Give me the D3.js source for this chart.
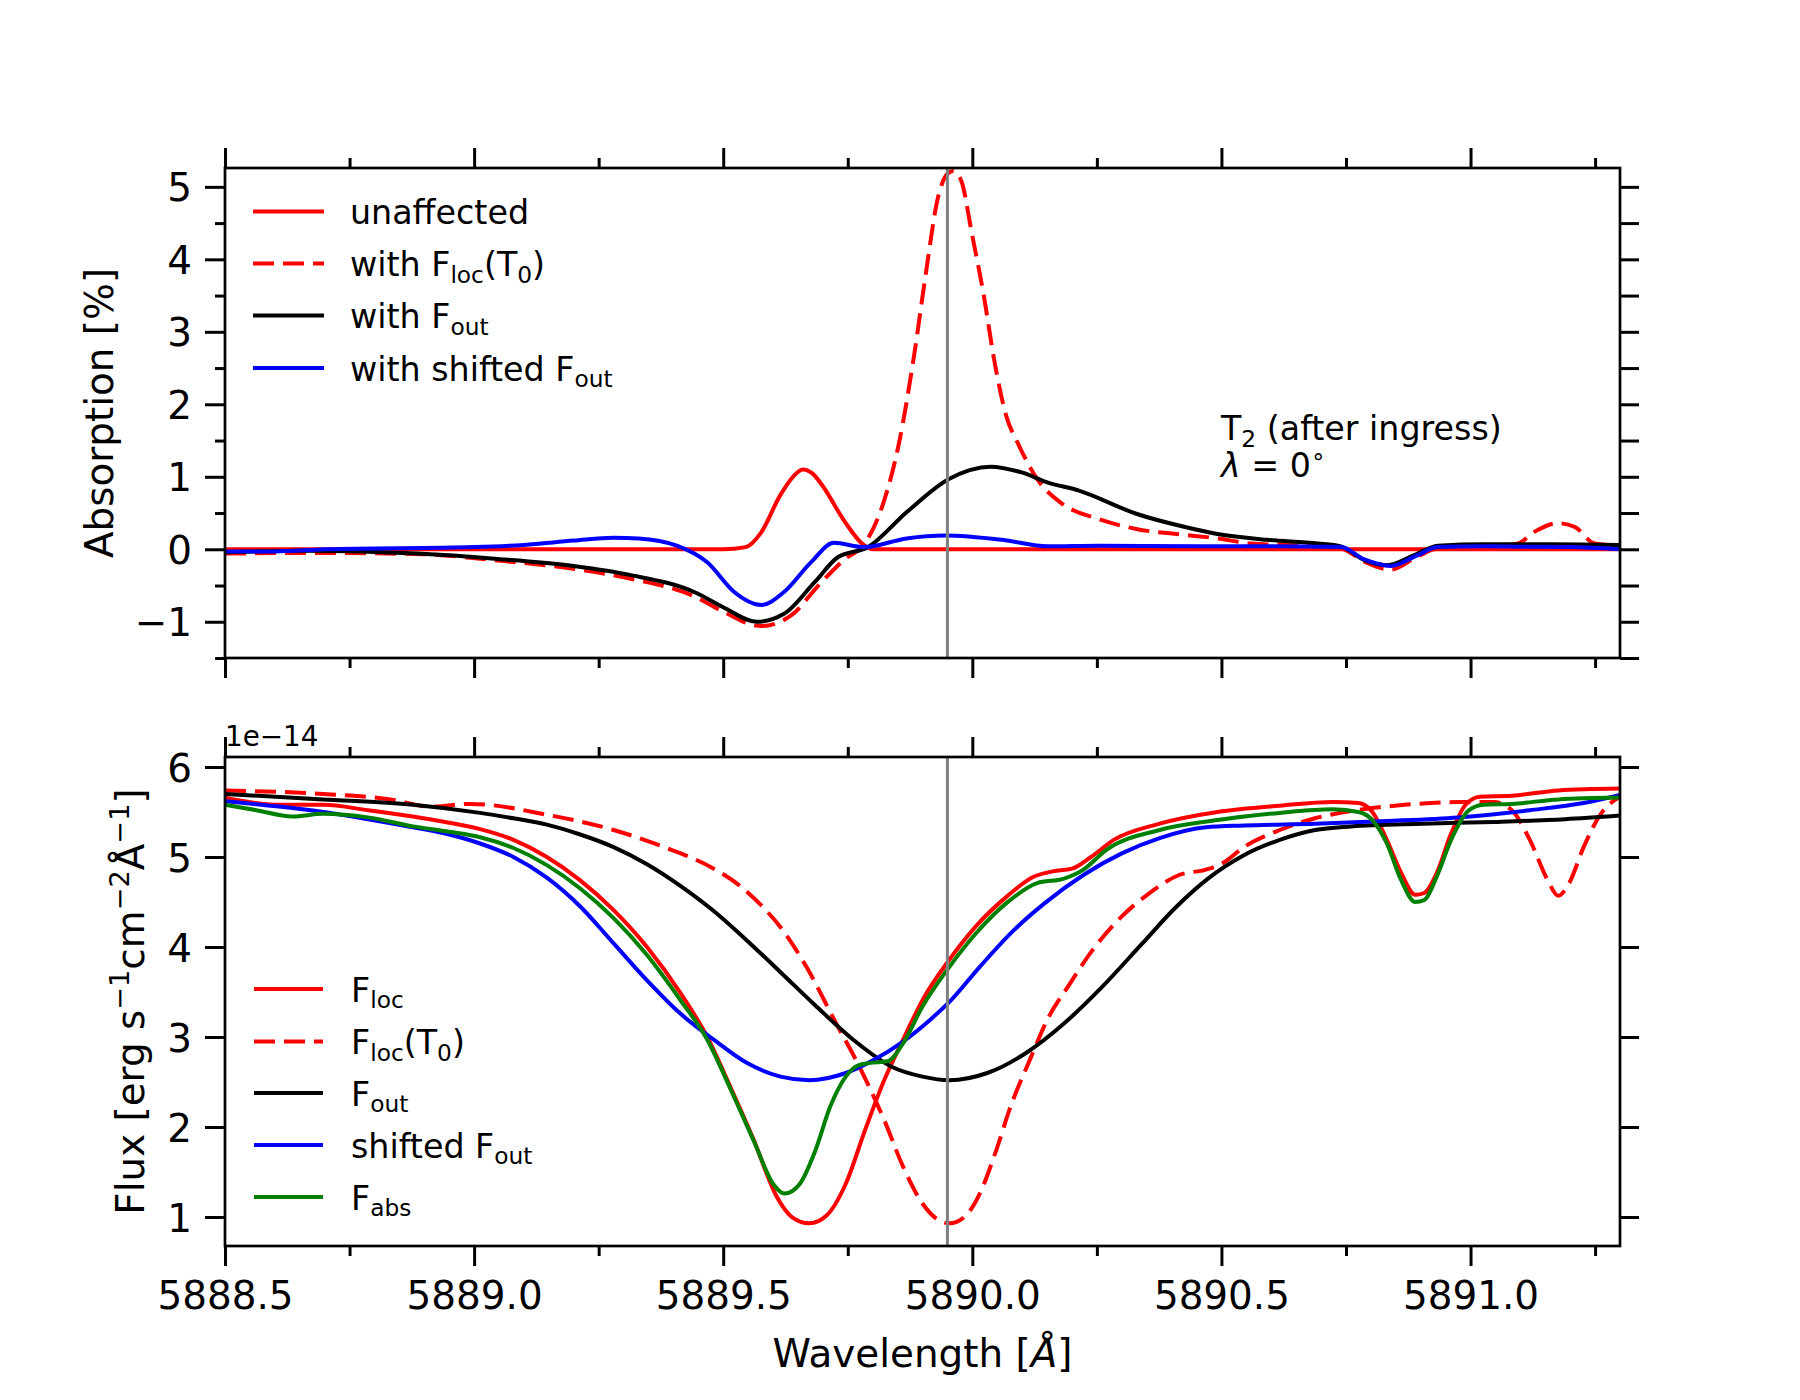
<!DOCTYPE html>
<html>
<head>
<meta charset="utf-8">
<script src="https://cdn.jsdelivr.net/npm/d3@7"></script>
<style>
  body { margin: 0; background: #fff; }
  svg text { font-family: "DejaVu Sans", sans-serif; fill: #000; }
</style>
</head>
<body>
<div id="chart"></div>
<script>
// ---- data (wavelength [A], value) ----
// top panel: absorption [%]
const absUnaffected = [
  [5888.5, 0], [5889.50, 0], [5889.545, 0.03], [5889.576, 0.23], [5889.614, 0.74], [5889.64, 1.0],
  [5889.660, 1.10], [5889.68, 1.04], [5889.699, 0.88], [5889.745, 0.37], [5889.780, 0.07],
  [5889.80, 0.0], [5891.3, 0]
];
const absFlocT0 = [
  [5888.5, -0.06], [5888.7, -0.05], [5888.9, -0.07], [5889.04, -0.15], [5889.2, -0.27], [5889.31, -0.40],
  [5889.445, -0.66], [5889.50, -0.86], [5889.576, -1.06], [5889.637, -0.91], [5889.691, -0.50],
  [5889.745, -0.13], [5889.783, 0.07], [5889.822, 0.65], [5889.853, 1.47], [5889.883, 2.67],
  [5889.906, 3.77], [5889.930, 4.82], [5889.950, 5.18], [5889.962, 5.22], [5889.978, 5.08],
  [5889.999, 4.36], [5890.022, 3.54], [5890.045, 2.57], [5890.068, 1.84], [5890.091, 1.47],
  [5890.130, 0.97], [5890.176, 0.65], [5890.252, 0.42], [5890.329, 0.28], [5890.425, 0.20],
  [5890.492, 0.15], [5890.559, 0.08], [5890.659, 0.05], [5890.740, 0.01], [5890.787, -0.17],
  [5890.840, -0.28], [5890.894, -0.10], [5890.934, 0.01], [5891.028, 0.03], [5891.095, 0.08],
  [5891.128, 0.24], [5891.175, 0.36], [5891.209, 0.31], [5891.249, 0.08], [5891.3, 0.05]
];
const absFout = [
  [5888.5, -0.04], [5888.657, -0.02], [5888.887, -0.06], [5889.041, -0.13], [5889.2, -0.23],
  [5889.31, -0.35], [5889.445, -0.60], [5889.50, -0.80], [5889.568, -1.00], [5889.622, -0.89],
  [5889.684, -0.45], [5889.730, -0.11], [5889.791, 0.03], [5889.868, 0.51], [5889.953, 0.97],
  [5890.037, 1.14], [5890.099, 1.06], [5890.152, 0.92], [5890.214, 0.81], [5890.329, 0.49],
  [5890.425, 0.31], [5890.492, 0.21], [5890.592, 0.13], [5890.693, 0.08], [5890.740, 0.04],
  [5890.787, -0.15], [5890.833, -0.22], [5890.887, -0.08], [5890.934, 0.05], [5891.028, 0.07],
  [5891.162, 0.07], [5891.3, 0.06]
];
const absShifted = [
  [5888.5, -0.03], [5888.6, -0.03], [5888.7, 0.0], [5889.0, 0.03], [5889.1, 0.06], [5889.2, 0.12],
  [5889.28, 0.16], [5889.33, 0.15], [5889.407, 0.05], [5889.468, -0.18], [5889.522, -0.59],
  [5889.576, -0.77], [5889.622, -0.59], [5889.676, -0.18], [5889.722, 0.09], [5889.783, 0.03],
  [5889.868, 0.15], [5889.945, 0.19], [5890.060, 0.13], [5890.152, 0.04], [5890.252, 0.05],
  [5890.452, 0.04], [5890.6, 0.04], [5890.74, 0.03], [5890.787, -0.14], [5890.84, -0.23],
  [5890.894, -0.08], [5890.934, 0.03], [5891.03, 0.04], [5891.2, 0.03], [5891.3, 0.0]
];

// bottom panel: flux [1e-14 erg s-1 cm-2 A-1]
const fluxLoc = [
  [5888.5, 5.66], [5888.608, 5.58], [5888.697, 5.58], [5888.787, 5.52], [5888.877, 5.45],
  [5888.95, 5.38], [5889.012, 5.31], [5889.079, 5.19], [5889.146, 5.00], [5889.213, 4.74],
  [5889.280, 4.41], [5889.347, 4.00], [5889.414, 3.49], [5889.468, 3.00], [5889.514, 2.45],
  [5889.561, 1.86], [5889.608, 1.22], [5889.638, 1.00], [5889.673, 0.93], [5889.708, 1.02],
  [5889.746, 1.37], [5889.785, 1.97], [5889.823, 2.52], [5889.861, 2.97], [5889.900, 3.41],
  [5889.954, 3.86], [5890.007, 4.23], [5890.069, 4.56], [5890.123, 4.78], [5890.161, 4.84],
  [5890.200, 4.87], [5890.238, 5.00], [5890.284, 5.19], [5890.376, 5.37], [5890.492, 5.50],
  [5890.617, 5.57], [5890.724, 5.61], [5890.775, 5.60], [5890.803, 5.50], [5890.832, 5.19],
  [5890.861, 4.82], [5890.889, 4.58], [5890.907, 4.60], [5890.932, 4.82], [5890.961, 5.26],
  [5890.990, 5.58], [5891.019, 5.67], [5891.083, 5.68], [5891.176, 5.74], [5891.3, 5.76]
];
const fluxLocT0 = [
  [5888.5, 5.74], [5888.697, 5.70], [5888.832, 5.64], [5888.913, 5.56], [5888.993, 5.59],
  [5889.146, 5.47], [5889.280, 5.30], [5889.381, 5.11], [5889.481, 4.87], [5889.531, 4.69],
  [5889.575, 4.47], [5889.615, 4.22], [5889.669, 3.76], [5889.723, 3.19], [5889.777, 2.63],
  [5889.823, 2.08], [5889.861, 1.56], [5889.900, 1.15], [5889.931, 0.97], [5889.954, 0.93],
  [5889.984, 1.00], [5890.015, 1.26], [5890.046, 1.71], [5890.077, 2.23], [5890.115, 2.74],
  [5890.154, 3.23], [5890.192, 3.56], [5890.246, 4.00], [5890.300, 4.34], [5890.351, 4.58],
  [5890.415, 4.80], [5890.469, 4.86], [5890.502, 4.93], [5890.545, 5.11], [5890.617, 5.30],
  [5890.688, 5.43], [5890.760, 5.51], [5890.868, 5.58], [5890.975, 5.61], [5891.047, 5.61],
  [5891.083, 5.52], [5891.119, 5.19], [5891.155, 4.74], [5891.176, 4.57], [5891.198, 4.71],
  [5891.227, 5.11], [5891.263, 5.49], [5891.3, 5.67]
];
const fluxOut = [
  [5888.5, 5.70], [5888.697, 5.64], [5888.877, 5.58], [5889.012, 5.49], [5889.079, 5.43],
  [5889.146, 5.36], [5889.213, 5.25], [5889.280, 5.11], [5889.347, 4.92], [5889.414, 4.68],
  [5889.481, 4.40], [5889.548, 4.07], [5889.615, 3.72], [5889.685, 3.35], [5889.761, 2.97],
  [5889.838, 2.67], [5889.900, 2.56], [5889.954, 2.52], [5890.030, 2.60], [5890.107, 2.82],
  [5890.184, 3.15], [5890.261, 3.56], [5890.338, 4.02], [5890.410, 4.45], [5890.473, 4.76],
  [5890.545, 5.02], [5890.617, 5.19], [5890.688, 5.30], [5890.760, 5.34], [5890.904, 5.37],
  [5891.047, 5.39], [5891.19, 5.42], [5891.3, 5.46]
];
const fluxShifted = [
  [5888.5, 5.62], [5888.608, 5.56], [5888.697, 5.50], [5888.787, 5.42], [5888.877, 5.33],
  [5888.95, 5.25], [5889.012, 5.15], [5889.079, 5.00], [5889.146, 4.77], [5889.213, 4.45],
  [5889.280, 4.04], [5889.347, 3.63], [5889.414, 3.26], [5889.481, 2.97], [5889.548, 2.71],
  [5889.615, 2.56], [5889.673, 2.52], [5889.746, 2.60], [5889.800, 2.74], [5889.861, 2.95],
  [5889.915, 3.19], [5889.954, 3.39], [5890.015, 3.78], [5890.084, 4.19], [5890.146, 4.49],
  [5890.223, 4.80], [5890.300, 5.04], [5890.376, 5.21], [5890.469, 5.33], [5890.545, 5.35],
  [5890.688, 5.37], [5890.832, 5.40], [5890.975, 5.44], [5891.119, 5.52], [5891.227, 5.60],
  [5891.3, 5.69]
];
const fluxAbs = [
  [5888.5, 5.58], [5888.563, 5.52], [5888.635, 5.45], [5888.697, 5.48], [5888.787, 5.44],
  [5888.877, 5.34], [5888.95, 5.28], [5889.012, 5.22], [5889.079, 5.10], [5889.146, 4.91],
  [5889.213, 4.65], [5889.280, 4.32], [5889.347, 3.91], [5889.414, 3.41], [5889.468, 2.97],
  [5889.514, 2.43], [5889.561, 1.85], [5889.600, 1.37], [5889.623, 1.26], [5889.654, 1.37],
  [5889.685, 1.74], [5889.715, 2.23], [5889.746, 2.56], [5889.769, 2.68], [5889.792, 2.71],
  [5889.830, 2.73], [5889.861, 2.93], [5889.900, 3.34], [5889.954, 3.78], [5890.007, 4.15],
  [5890.069, 4.49], [5890.130, 4.71], [5890.184, 4.76], [5890.223, 4.86], [5890.269, 5.08],
  [5890.376, 5.30], [5890.492, 5.41], [5890.617, 5.49], [5890.724, 5.53], [5890.775, 5.50],
  [5890.803, 5.41], [5890.832, 5.15], [5890.861, 4.74], [5890.889, 4.50], [5890.907, 4.52],
  [5890.932, 4.78], [5890.961, 5.19], [5890.997, 5.52], [5891.026, 5.58], [5891.083, 5.59],
  [5891.176, 5.64], [5891.3, 5.66]
];

const restWavelength = 5889.95;

// ticks
const xMajorTicks = [5888.5, 5889.0, 5889.5, 5890.0, 5890.5, 5891.0];
const xMinorTicks = [5888.75, 5889.25, 5889.75, 5890.25, 5890.75, 5891.25];
const absMajorTicks = [-1, 0, 1, 2, 3, 4, 5];
const absMinorTicks = [-1.5, -0.5, 0.5, 1.5, 2.5, 3.5, 4.5];
const fluxTicks = [1, 2, 3, 4, 5, 6];

// labels (text segments; sub/sup/it flags)
const labelsTop = [
  [{t: "unaffected"}],
  [{t: "with F"}, {t: "loc", sub: true}, {t: "(T"}, {t: "0", sub: true}, {t: ")"}],
  [{t: "with F"}, {t: "out", sub: true}],
  [{t: "with shifted F"}, {t: "out", sub: true}]
];
const labelsBottom = [
  [{t: "F"}, {t: "loc", sub: true}],
  [{t: "F"}, {t: "loc", sub: true}, {t: "(T"}, {t: "0", sub: true}, {t: ")"}],
  [{t: "F"}, {t: "out", sub: true}],
  [{t: "shifted F"}, {t: "out", sub: true}],
  [{t: "F"}, {t: "abs", sub: true}]
];
const noteLines = [
  [{t: "T"}, {t: "2", sub: true}, {t: " (after ingress)"}],
  [{t: "λ", it: true}, {t: " = 0"}, {t: "∘", sup: true}]
];
const xLabel = [{t: "Wavelength ["}, {t: "Å", it: true}, {t: "]"}];
const yLabelTop = [{t: "Absorption [%]"}];
const yLabelBottom = [{t: "Flux [erg s"}, {t: "−1", sup: true}, {t: "cm"}, {t: "−2", sup: true},
  {t: "Å"}, {t: "−1", sup: true}, {t: "]"}];
const offsetText = "1e−14";

// ---- layout ----
const width = 1800, height = 1400;
const left = 225, right = 1620;
const topPanel = {y0: 168, y1: 658};
const botPanel = {y0: 757, y1: 1246};
const tickFont = 38.9, legendFont = 33.3;
const lw = 4;

const svg = d3.select("#chart").append("svg")
  .attr("width", width).attr("height", height)
  .attr("viewBox", [0, 0, width, height]);
svg.append("rect").attr("width", width).attr("height", height).attr("fill", "#fff");

const x = d3.scaleLinear().domain([5888.5, 5891.3]).range([left, right]);
const yTop = d3.scaleLinear().domain([-1.5, 5.26]).range([topPanel.y1, topPanel.y0]);
const yBot = d3.scaleLinear().domain([0.678, 6.111]).range([botPanel.y1, botPanel.y0]);

// append segments as tspans; returns the baseline shift left at the end
function rich(sel, parts, fs, startShift = 0, firstX = null, lineGap = 0) {
  let shift = startShift;
  parts.forEach((p, i) => {
    const target = p.sub ? fs * 0.2 : p.sup ? -fs * 0.38 : 0;
    const ts = sel.append("tspan").attr("dy", target - shift + (i === 0 ? lineGap : 0)).text(p.t);
    if (i === 0 && firstX !== null) ts.attr("x", firstX);
    shift = target;
    if (p.sub || p.sup) ts.attr("font-size", fs * 0.7);
    if (p.it) ts.attr("font-style", "italic");
  });
  return shift;
}

function styleAxis(g) {
  g.select(".domain").remove();
  g.selectAll(".tick line").attr("stroke", "#000").attr("stroke-width", 3);
  g.selectAll(".tick text").attr("font-size", tickFont).attr("font-family", "DejaVu Sans").attr("fill", "#000");
}

function axes(y, p, yMajor, yMinor, yRight, xLabels) {
  const g = svg.append("g");
  // bottom
  g.append("g").attr("transform", `translate(0,${p.y1})`)
    .call(d3.axisBottom(x).tickValues(xMinorTicks).tickSize(10).tickFormat(""))
    .call(styleAxis);
  g.append("g").attr("transform", `translate(0,${p.y1})`)
    .call(d3.axisBottom(x).tickValues(xMajorTicks).tickSize(20).tickPadding(15.5)
      .tickFormat(xLabels ? d3.format(".1f") : ""))
    .call(styleAxis);
  // top
  g.append("g").attr("transform", `translate(0,${p.y0})`)
    .call(d3.axisTop(x).tickValues(xMinorTicks).tickSize(10).tickFormat(""))
    .call(styleAxis);
  g.append("g").attr("transform", `translate(0,${p.y0})`)
    .call(d3.axisTop(x).tickValues(xMajorTicks).tickSize(20).tickFormat(""))
    .call(styleAxis);
  // left
  if (yMinor.length) {
    g.append("g").attr("transform", `translate(${left},0)`)
      .call(d3.axisLeft(y).tickValues(yMinor).tickSize(10).tickFormat(""))
      .call(styleAxis);
  }
  g.append("g").attr("transform", `translate(${left},0)`)
    .call(d3.axisLeft(y).tickValues(yMajor).tickSize(20).tickPadding(13).tickFormat(d3.format("d")))
    .call(styleAxis)
    .call(a => a.selectAll(".tick text").attr("dy", "0.36em"));
  // right
  g.append("g").attr("transform", `translate(${right},0)`)
    .call(d3.axisRight(y).tickValues(yRight).tickSize(19).tickFormat(""))
    .call(styleAxis);
  // frame
  g.append("rect").attr("x", left).attr("y", p.y0)
    .attr("width", right - left).attr("height", p.y1 - p.y0)
    .attr("fill", "none").attr("stroke", "#000").attr("stroke-width", 2.7);
}

function panel(p, y, series, id) {
  svg.append("clipPath").attr("id", id).append("rect")
    .attr("x", left).attr("y", p.y0).attr("width", right - left).attr("height", p.y1 - p.y0);
  const g = svg.append("g").attr("clip-path", `url(#${id})`);
  const line = d3.line().x(d => x(d[0])).y(d => y(d[1])).curve(d3.curveMonotoneX);
  series.forEach(s => {
    g.append("path").datum(s.data)
      .attr("fill", "none").attr("stroke", s.color).attr("stroke-width", lw)
      .attr("stroke-dasharray", s.dash ? "21,9" : null)
      .attr("stroke-linejoin", "round")
      .attr("d", line);
  });
  g.append("line")
    .attr("x1", x(restWavelength)).attr("x2", x(restWavelength))
    .attr("y1", p.y0).attr("y2", p.y1)
    .attr("stroke", "#808080").attr("stroke-width", 3);
}

function legend(series, labels, x1, x2, xt, rows) {
  const g = svg.append("g");
  series.forEach((s, i) => {
    const cy = rows[i];
    g.append("line").attr("x1", x1).attr("x2", x2).attr("y1", cy).attr("y2", cy)
      .attr("stroke", s.color).attr("stroke-width", lw)
      .attr("stroke-dasharray", s.dash ? "21,9" : null);
    const t = g.append("text").attr("x", xt).attr("y", cy + 12.5).attr("font-size", legendFont);
    rich(t, labels[i], legendFont);
  });
}

const seriesTop = [
  {data: absUnaffected, color: "#ff0000"},
  {data: absFlocT0, color: "#ff0000", dash: true},
  {data: absFout, color: "#000000"},
  {data: absShifted, color: "#0000ff"}
];
const seriesBottom = [
  {data: fluxLoc, color: "#ff0000"},
  {data: fluxLocT0, color: "#ff0000", dash: true},
  {data: fluxOut, color: "#000000"},
  {data: fluxShifted, color: "#0000ff"},
  {data: fluxAbs, color: "#008000"}
];

panel(topPanel, yTop, seriesTop, "clipTop");
panel(botPanel, yBot, seriesBottom, "clipBot");
axes(yTop, topPanel, absMajorTicks, absMinorTicks, absMajorTicks.concat(absMinorTicks), false);
axes(yBot, botPanel, fluxTicks, [], fluxTicks, true);

legend(seriesTop, labelsTop, 253, 324, 350, [211.6, 263.5, 315.6, 368]);
legend(seriesBottom, labelsBottom, 254, 323, 351, [989, 1041.5, 1093, 1145, 1197]);

// annotation: one text block, two lines
const note = svg.append("text").attr("x", 1221).attr("y", 440).attr("font-size", legendFont);
let s = 0;
noteLines.forEach((ln, i) => {
  s = rich(note, ln, legendFont, s, i === 0 ? null : 1221, i === 0 ? 0 : 36.5);
});

// offset text
svg.append("text").attr("x", 225).attr("y", 746).attr("font-size", 27.8).text(offsetText);

// axis labels
const xl = svg.append("text").attr("x", (left + right) / 2).attr("y", 1367)
  .attr("text-anchor", "middle").attr("font-size", tickFont);
rich(xl, xLabel, tickFont);

const ylt = svg.append("text").attr("text-anchor", "middle").attr("font-size", tickFont)
  .attr("transform", `translate(113,${(topPanel.y0 + topPanel.y1) / 2}) rotate(-90)`);
rich(ylt, yLabelTop, tickFont);

const ylb = svg.append("text").attr("text-anchor", "middle").attr("font-size", tickFont)
  .attr("transform", `translate(144,${(botPanel.y0 + botPanel.y1) / 2}) rotate(-90)`);
rich(ylb, yLabelBottom, tickFont);
</script>
</body>
</html>
